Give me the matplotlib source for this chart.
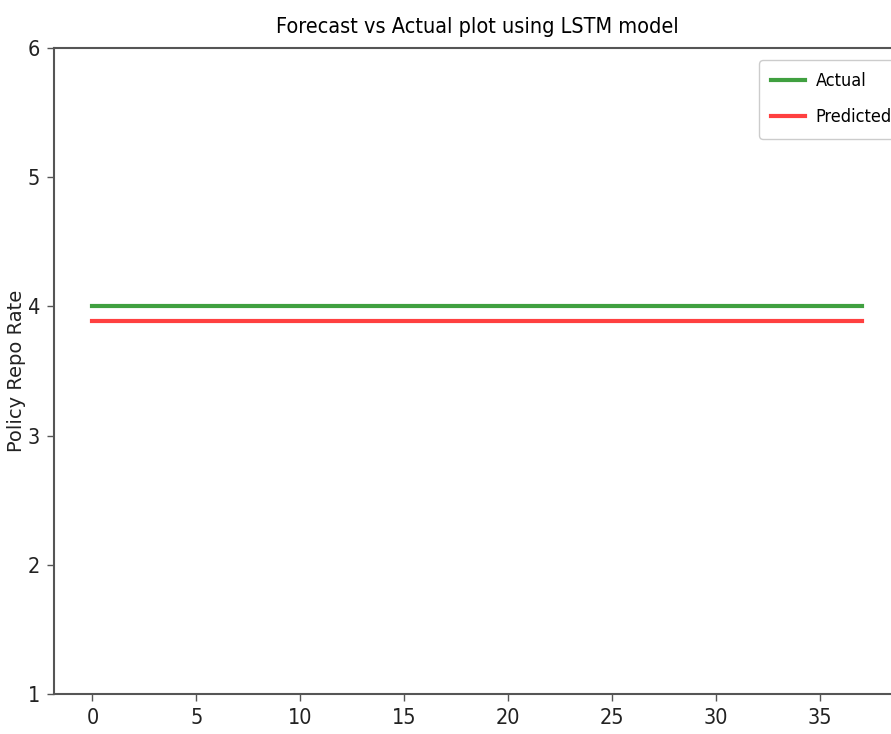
import matplotlib
matplotlib.use("Agg")
import matplotlib.pyplot as plt
from matplotlib import font_manager
import os

# ---- data ----
x_index = list(range(38))
actual = [4.0] * 38
predicted = [3.89] * 38
y_ticks = [1, 2, 3, 4, 5, 6]
x_ticks = [0, 5, 10, 15, 20, 25, 30, 35]
title = "Forecast vs Actual plot using LSTM model"
ylabel = "Policy Repo Rate"

# pick a regular-weight condensed font if available
cond = None
for f in font_manager.fontManager.ttflist:
    base = os.path.basename(f.fname)
    if base in ("DejaVuSansCondensed.ttf", "LiberationSansNarrow-Regular.ttf", "RobotoCondensed-Regular.ttf"):
        cond = font_manager.FontProperties(fname=f.fname)
        break
if cond is None:
    cond = font_manager.FontProperties(family="DejaVu Sans", stretch="condensed", weight="normal")

W, H = 891, 734
fig = plt.figure(figsize=(W / 100, H / 100), dpi=100)
left, right, bottom, top = 54 / W, 900 / W, (H - 694) / H, (H - 48) / H
ax = fig.add_axes([left, bottom, right - left, top - bottom])

ax.plot(x_index, actual, color="green", alpha=0.75, lw=3, label="Actual")
ax.plot(x_index, predicted, color="red", alpha=0.75, lw=3, label="Predicted")

ax.set_ylim(1, 6)
ax.set_xlim(-1.85, 38.85)
ax.set_yticks(y_ticks)
ax.set_xticks(x_ticks)

def fp(size):
    p = cond.copy()
    p.set_size(size)
    return p

for lab in ax.get_xticklabels() + ax.get_yticklabels():
    lab.set_fontproperties(fp(15.5))
ax.tick_params(length=5, width=1, color="#555555", labelcolor="#222222", pad=5)
for s in ax.spines.values():
    s.set_color("#555555")
    s.set_linewidth(1.5)

ax.set_title(title, fontproperties=fp(15.5), pad=11)
ax.set_ylabel(ylabel, fontproperties=font_manager.FontProperties(family="DejaVu Sans", size=14),
              color="#222222")
ax.yaxis.set_label_coords(-28 / (right - left) / W, 0.5)

leg = ax.legend(loc="upper left", bbox_to_anchor=(759 / W, 1 - 60 / H),
                bbox_transform=fig.transFigure, prop=fp(13), handlelength=1.85,
                handletextpad=0.6, labelspacing=1.0, borderpad=0.68,
                borderaxespad=0, framealpha=1, edgecolor="#cccccc")

fig.savefig("out.png", dpi=100)
